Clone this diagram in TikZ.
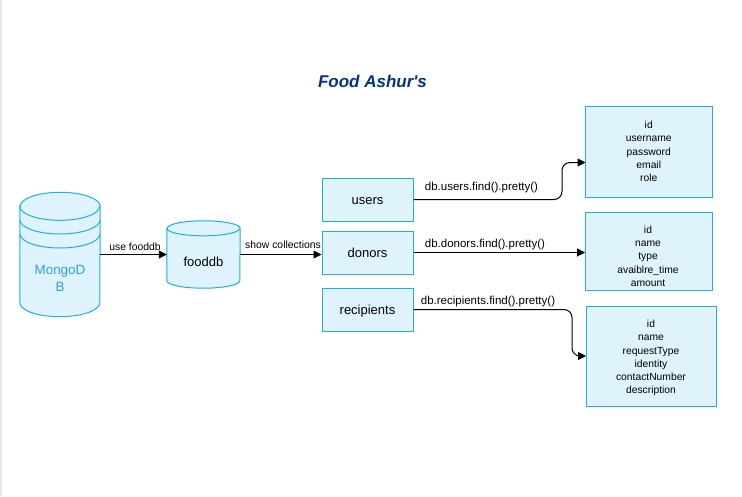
\documentclass[tikz,border=0pt]{standalone}
\usepackage{fontspec}
\setmainfont{Liberation Sans}
\usetikzlibrary{arrows.meta, positioning, calc}
\definecolor{boxfill}{HTML}{DFF3FC}
\definecolor{boxline}{HTML}{1FADEB}
\definecolor{dbtext}{HTML}{2F9FE8}
\definecolor{titleblue}{HTML}{003380}
\definecolor{sidegray}{HTML}{E8E8E8}
% node name, x radius, y radius
\newcommand{\drawdrum}[3]{
  \draw[line width=1pt, draw=boxline, fill=boxfill] ($(#1.north west)+(0,#3)$) -- ($(#1.south west)-(0,#3)$)
    arc[start angle=180, end angle=0, x radius=#2, y radius=#3] -- ($(#1.north east)+(0,#3)$)
    arc[start angle=0, end angle=-180, x radius=#2, y radius=#3] -- cycle;
  \draw[line width=1pt, draw=boxline] ($(#1.north west)+(0,#3)$)
    arc[start angle=180, end angle=0, x radius=#2, y radius=#3];
}

\begin{document}
\begin{tikzpicture}[x=1pt, y=-1pt,
  collbox/.style={rectangle, line width=1pt, draw=boxline, fill=boxfill,
    minimum width=91pt, minimum height=43pt, inner sep=0pt,
    text height=9pt, text depth=0pt, font=\fontsize{13}{15}\selectfont},
  tblbox/.style={rectangle, line width=1pt, draw=boxline, fill=boxfill,
    inner sep=0pt, align=center, font=\fontsize{10.3}{13.2}\selectfont},
  fieldtext/.style={inner sep=0pt, align=center, font=\fontsize{10.3}{13.2}\selectfont},
  dbspot/.style={rectangle, inner sep=0pt},
  conn/.style={line width=1pt, arrows={-Triangle[length=8pt,width=8pt]}},
  edgetext/.style={inner sep=0pt, font=\fontsize{10.4}{12}\selectfont},
  calltext/.style={inner sep=0pt, font=\fontsize{11.5}{13}\selectfont}]
  \useasboundingbox (0,0) rectangle (742,496);
  \fill[sidegray] (0,0) rectangle (2,496);
  \node[inner sep=0pt, text=titleblue, font=\fontsize{17}{19}\selectfont\bfseries\itshape] (title) at (372.5,81) {Food Ashur\textquotesingle s};
  % databases
  \node[dbspot, minimum width=80pt, minimum height=124pt] (mongo) at (60,254.5) {};
  \drawdrum{mongo}{40}{14}
  \draw[line width=1pt, draw=boxline] (20,220) arc[start angle=180, end angle=0, x radius=40, y radius=14];
  \draw[line width=1pt, draw=boxline] (20,234) arc[start angle=180, end angle=0, x radius=40, y radius=14];
  \node[inner sep=0pt, align=center, text=dbtext, font=\fontsize{13.4}{17}\selectfont] (mongolabel) at (60,278.5) {MongoD\\B};
  \node[dbspot, minimum width=73pt, minimum height=67pt] (fooddb) at (203.5,254.5) {};
  \drawdrum{fooddb}{36.5}{7.5}
  \node[inner sep=0pt, font=\fontsize{13}{15}\selectfont] (fooddblabel) at (203.5,261.5) {fooddb};
  % collections
  \node[collbox] (users) at (367.5,199.5) {users};
  \node[collbox] (donors) at (367.5,252.5) {donors};
  \node[collbox] (recipients) at (367.5,309.5) {recipients};
  % fields
  \node[tblbox, minimum width=126.5pt, minimum height=91pt] (tblusers) at (648.75,151.5)
    {id\\username\\password\\email\\role};
  \node[tblbox, minimum width=126.5pt, minimum height=78pt] (tbldonors) at (648.75,251) {};
  \node[fieldtext] (donorfields) at (648,256.3)
    {id\\name\\type\\avaiblre\_time\\amount};
  \node[tblbox, minimum width=130pt, minimum height=100pt] (tblrecipients) at (651.5,356) {};
  \node[fieldtext] (recipfields) at (651,358)
    {id\\name\\requestType\\identity\\contactNumber\\description};
  % arrows
  \coordinate (usersin) at (585.5,162.5);
  \coordinate (usersbend) at (562,199.5);
  \coordinate (recipbend) at (572,309.5);
  \draw[conn] (mongo.east) -- (fooddb.west);
  \draw[conn] (fooddb.east) -- (fooddb.east -| donors.west);
  \draw[conn, rounded corners=8pt] (users.east) -- (usersbend) -- (usersbend |- usersin) -- (usersin);
  \draw[conn] (donors.east) -- (donors.east -| tbldonors.west);
  \draw[conn, rounded corners=8pt] (recipients.east) -- (recipbend) -- (recipbend |- tblrecipients.west) -- (tblrecipients.west);
  % labels
  \node[edgetext] (usefooddb) at (135,247) {use fooddb};
  \node[edgetext] (showcoll) at (283,245) {show collections};
  \node[calltext] (findusers) at (481.5,188) {db.users.find().pretty()};
  \node[calltext] (finddonors) at (485,244.5) {db.donors.find().pretty()};
  \node[calltext] (findrecip) at (488,302) {db.recipients.find().pretty()};
\end{tikzpicture}
\end{document}
